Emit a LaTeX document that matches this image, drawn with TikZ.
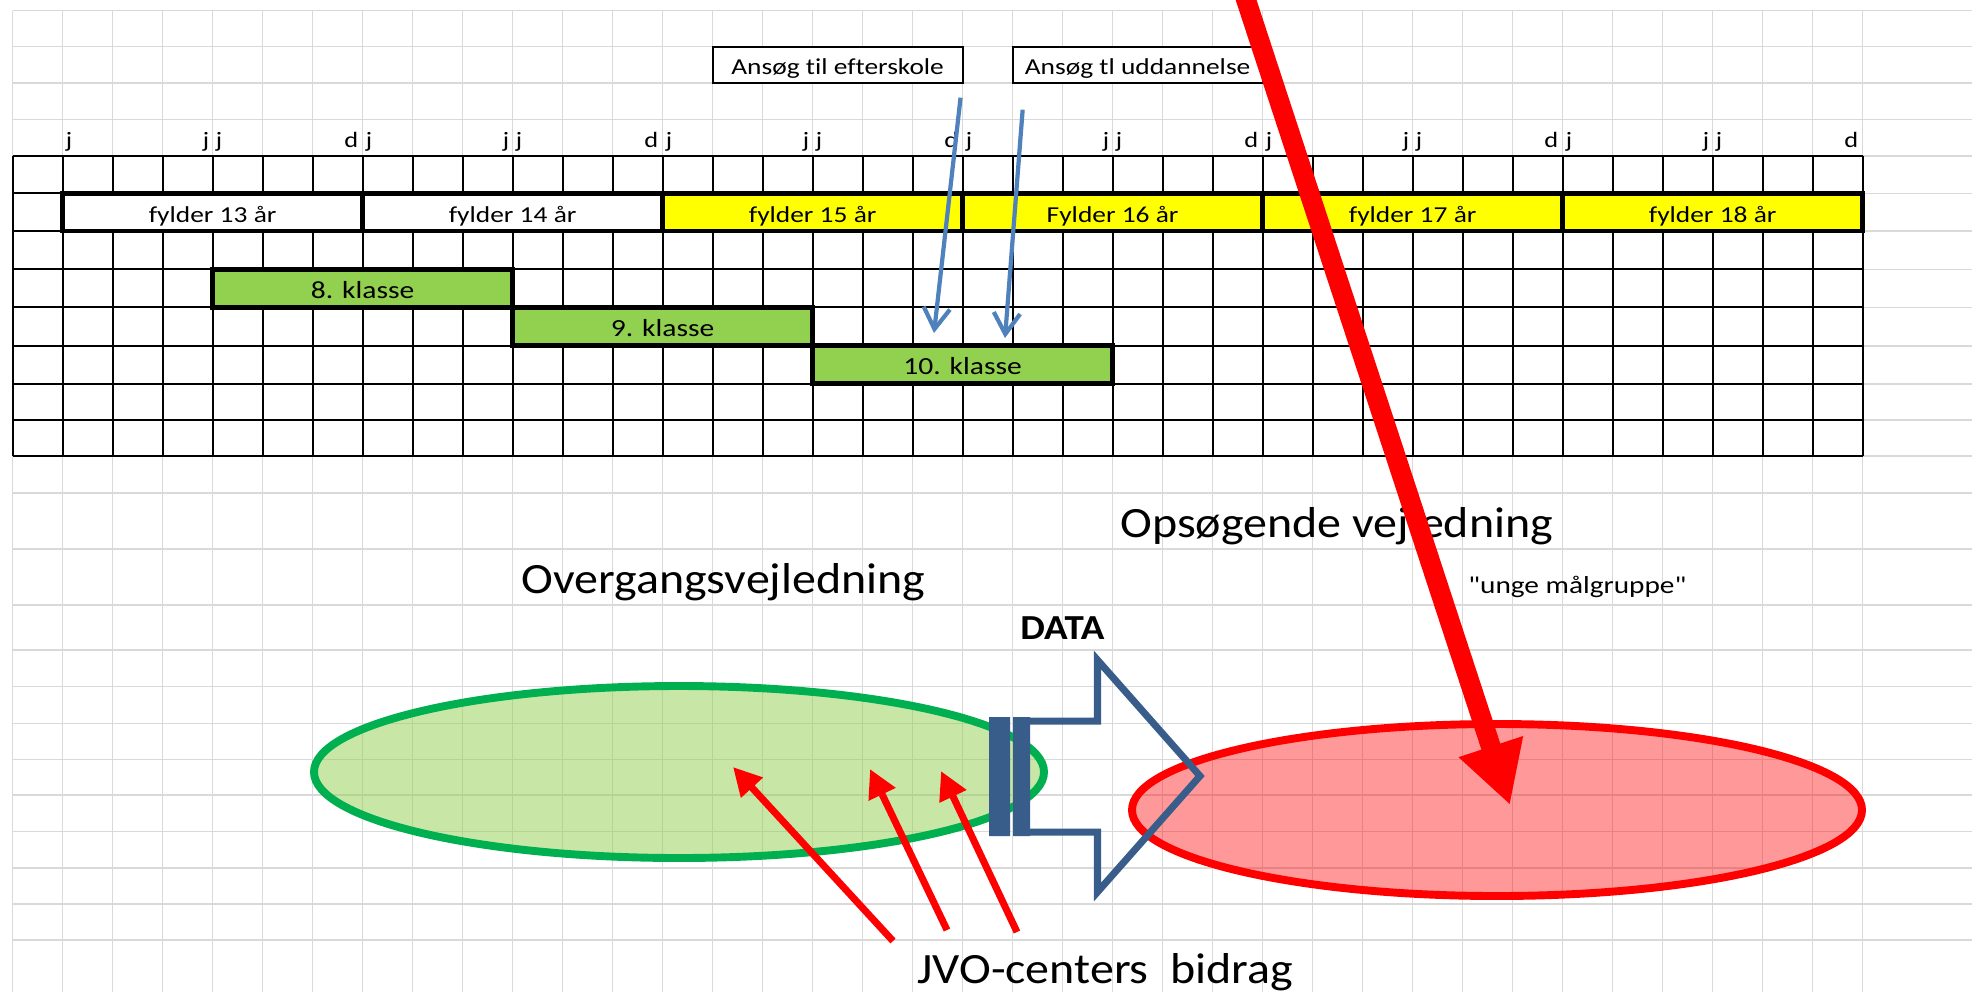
\documentclass[tikz,border=0pt]{standalone}
\usepackage{fontspec}
\setmainfont{Carlito}
\newfontfamily\cellfont[FakeStretch=1.2, Ligatures=NoCommon]{Carlito}
\newfontfamily\bigfont[FakeStretch=1.11, Ligatures=NoCommon]{Carlito}
\usetikzlibrary{calc, arrows.meta}
\definecolor{gridgray}{RGB}{217,217,217}
\definecolor{xlyellow}{RGB}{255,255,0}
\definecolor{xlgreen}{RGB}{146,208,80}
\definecolor{xlgreenline}{RGB}{0,176,80}
\definecolor{xlblue}{RGB}{79,129,189}
\definecolor{xlnavy}{RGB}{56,93,138}

\begin{document}
\begin{tikzpicture}[x=0.02cm, y=-0.02cm,
 cellgrid/.style={draw=gridgray, line width=0.9pt},
 tabline/.style={draw=black, line width=1.1pt},
 yearbar/.style={draw=black, line width=2.6pt},
 monthtext/.style={inner sep=0pt, font=\cellfont\fontsize{12.5pt}{15pt}\selectfont},
 celltext/.style={inner sep=0pt, font=\cellfont\fontsize{13pt}{15pt}\selectfont},
 classtext/.style={inner sep=0pt, font=\cellfont\fontsize{14pt}{16pt}\selectfont},
 askbox/.style={draw=black, fill=white, line width=1.1pt, inner sep=0pt, minimum width=5cm, minimum height=0.72cm, text height=11.6pt, text depth=0pt, font=\cellfont\fontsize{13pt}{15pt}\selectfont},
 bigtext/.style={inner sep=0pt, font=\bigfont\fontsize{24.6pt}{28pt}\selectfont},
 quotetext/.style={inner sep=0pt, font=\cellfont\fontsize{13.9pt}{16pt}\selectfont},
 datatext/.style={inner sep=0pt, font=\bigfont\bfseries\fontsize{20pt}{23pt}\selectfont},
 ansarrow/.style={draw=xlblue, line width=2.4pt, -{Straight Barb[length=12pt,width=15pt]}},
 jvoarrow/.style={draw=red, line width=4pt, -{Triangle[length=16pt,width=16pt]}},
 bigarrow/.style={draw=red, line width=11.3pt, -{Triangle[length=35pt,width=36pt]}}]
\useasboundingbox (0,0) rectangle (1972,992);
\fill[white] (0,0) rectangle (1972,992);
\clip (0,0) rectangle (1972,992);
%背景の格子
\foreach \y in {10.7,46.7,82.7,119.3,155.7,193.3,231,269.3,307.3,345.7,383.7,420,455.7,492.8,549.2,604.8,650.2,686.5,723.5,759.4,795,831.5,867.8,904,940}
 \draw[cellgrid] (12.6,\y) -- (1972,\y);
\foreach \i in {0,...,37}
 \draw[cellgrid] (12.6+50*\i,10.7) -- (12.6+50*\i,992);
%表
\foreach \y in {155.7,193.3,231,269.3,307.3,345.7,383.7,420,455.7}
 \draw[tabline] (12.6,\y) -- (1862.6,\y);
\foreach \i in {0,...,37}
 \draw[tabline] (12.6+50*\i,155.7) -- (12.6+50*\i,455.7);
\foreach \k in {0,...,5}{
 \pgfmathsetmacro\bx{62.6+300*\k}
 \node[monthtext, anchor=base west] (ja\k) at (\bx+3,147.7) {j};
 \node[monthtext, anchor=base east] (jb\k) at (\bx+147,147.7) {j};
 \node[monthtext, anchor=base west] (jc\k) at (\bx+153,147.7) {j};
 \node[monthtext, anchor=base east] (dd\k) at (\bx+296,147.7) {d};
}
\foreach \k/\lbl/\fillc in {0/fylder 13 år/white, 1/fylder 14 år/white, 2/fylder 15 år/xlyellow, 3/Fylder 16 år/xlyellow, 4/fylder 17 år/xlyellow, 5/fylder 18 år/xlyellow}{
 \draw[yearbar, fill=\fillc] (62.6+300*\k,193.3) rectangle (362.6+300*\k,231);
 \node[celltext, anchor=base] (age\k) at (212.6+300*\k,222) {\lbl};
}
\foreach \xa/\ya/\yb/\lbl [count=\n] in {212.6/269.3/307.3/8. klasse, 512.6/307.3/345.7/9. klasse, 812.6/345.7/383.7/10. klasse}{
 \draw[yearbar, fill=xlgreen] (\xa,\ya) rectangle (\xa+300,\yb);
 \node[classtext, anchor=base] (klasse\n) at (\xa+150,\yb-9) {\lbl};
}
\node[askbox] (efterskole) at (837.6,64.7) {Ansøg til efterskole};
\node[askbox] (uddannelse) at (1137.6,64.7) {Ansøg tl uddannelse};
%楕円とDATAの矢印
\draw[line width=4.5pt, draw=xlgreenline, fill=xlgreen, fill opacity=0.5] (679,772) ellipse [x radius=365, y radius=86];
\draw[line width=4.5pt, draw=red, fill=red, fill opacity=0.4] (1497,810) ellipse [x radius=365, y radius=86];
\fill[xlnavy] (989,717) rectangle (1010,836) (1013,717) rectangle (1030,836);
\draw[xlnavy, line width=4pt] (1030,721) -- (1097.5,721) -- (1097.5,660) -- (1200,776) -- (1097.5,892) -- (1097.5,832) -- (1030,832);
\node[datatext, anchor=base west] (data) at (1020,639) {DATA};
\node[bigtext, anchor=base west] (overgang) at (521,593) {Overgangsvejledning};
\node[bigtext, anchor=base west] (opsoeg) at (1120,537) {Opsøgende vejledning};
\node[quotetext, anchor=base west] (unge) at (1468,593) {"unge målgruppe"};
\node[bigtext, anchor=base west] (jvo) at (917,983) {JVO-centers~ bidrag};
%矢印
\coordinate (P) at (934,333);
\coordinate (Q) at (1005,338);
\draw[ansarrow] ($(efterskole.south east)+(-3,14)$) -- (P);
\draw[ansarrow] ($(uddannelse.south west)+(11,26)$) -- (Q);
\draw (893,941) coordinate (J1) (947,930) coordinate (J2) (1017,932) coordinate (J3)
 (733,767) coordinate (T1) (870,769) coordinate (T2) (941,771) coordinate (T3);
\draw[jvoarrow] (J1) -- (T1);
\draw[jvoarrow] (J2) -- (T2);
\draw[jvoarrow] (J3) -- (T3);
\draw (1233,-40) coordinate (R) (1510,805) coordinate (S);
\draw[bigarrow] (R) -- (S);
\end{tikzpicture}
\end{document}
